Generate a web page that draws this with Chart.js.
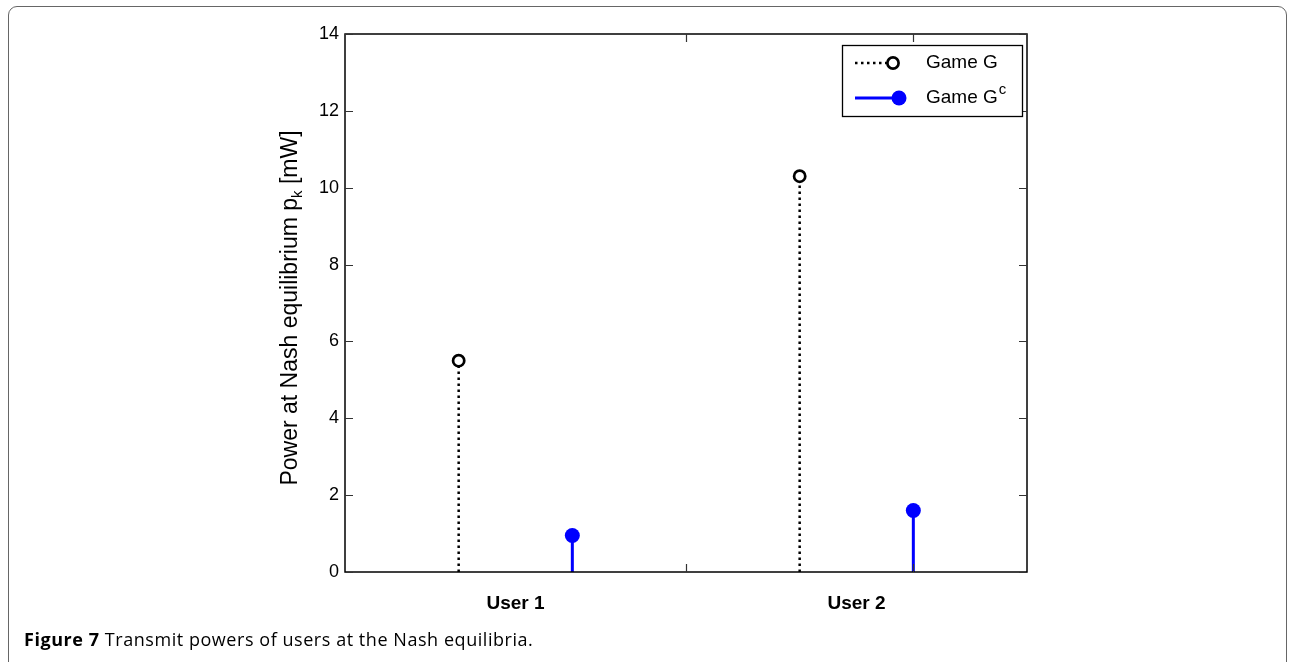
<!DOCTYPE html>
<html>
<head>
<meta charset="utf-8">
<script src="https://cdn.jsdelivr.net/npm/chart.js@4/dist/chart.umd.min.js"></script>
<style>
  html, body { margin: 0; padding: 0; background: #fff; width: 1294px; height: 662px; overflow: hidden; }
  #frame { position: absolute; left: 8px; top: 6px; width: 1279px; height: 720px; border: 1px solid #666; border-radius: 9px; box-sizing: border-box; }
  #plot { position: absolute; left: 0; top: 0; }
  #caption { position: absolute; left: 24px; top: 630px; font-family: "Open Sans", sans-serif; font-size: 18px; line-height: 1; letter-spacing: 0.55px; color: #000; white-space: nowrap; }
  #caption b { font-weight: 700; }
</style>
</head>
<body>
<div id="frame"></div>
<canvas id="plot" width="1294" height="662"></canvas>
<div id="caption"><b>Figure 7</b> Transmit powers of users at the Nash equilibria.</div>
<script>
// Users and the transmit power each one reaches at equilibrium [mW]
const users = ['User 1', 'User 2'];
const userPos = [1, 2];
const powerGameG = [5.5, 10.3];
const powerGameGc = [0.95, 1.6];
const yTickValues = [0, 2, 4, 6, 8, 10, 12, 14];
const xTickMarks = [1.5, 2 + 1 / 6];

const FONT = '"Liberation Sans", Arial, Helvetica, sans-serif';
const STEM_SHIFT = 1 / 6;

// One stem per user: a segment from 0 up to the value, separated by a gap point
function stems(values, shift) {
  const pts = [];
  values.forEach((v, i) => {
    const x = userPos[i] + shift;
    pts.push({ x: x, y: 0 }, { x: x, y: v }, { x: x, y: null });
  });
  return pts;
}
const tipOnly = r => ctx => (ctx.dataIndex % 3 === 1 ? r : 0);

const datasets = [
  {
    label: 'Game G',
    sup: '',
    data: stems(powerGameG, -STEM_SHIFT),
    borderColor: '#000',
    borderWidth: 2.5,
    borderDash: [2.5, 3.5],
    borderCapStyle: 'butt',
    pointRadius: tipOnly(5.6),
    pointHoverRadius: tipOnly(5.6),
    pointBackgroundColor: '#fff',
    pointBorderColor: '#000',
    pointBorderWidth: 2.7,
    spanGaps: false,
    tension: 0
  },
  {
    label: 'Game G',
    sup: 'c',
    data: stems(powerGameGc, STEM_SHIFT),
    borderColor: '#0000ff',
    borderWidth: 3,
    pointRadius: tipOnly(7.5),
    pointHoverRadius: tipOnly(7.5),
    pointBackgroundColor: '#0000ff',
    pointBorderColor: '#0000ff',
    pointBorderWidth: 0,
    spanGaps: false,
    tension: 0
  }
];

const TICK_LEN = 8;

// Box, inward ticks, rotated axis title and legend
const decorations = {
  id: 'decorations',
  afterDatasetsDraw(chart) {
    const { ctx, chartArea: a, scales } = chart;
    const xs = scales.x, ys = scales.y;
    ctx.save();
    ctx.strokeStyle = '#000';
    ctx.lineWidth = 1.5;
    ctx.strokeRect(a.left, a.top, a.right - a.left, a.bottom - a.top);

    ctx.lineWidth = 1.2;
    ctx.strokeStyle = '#333';
    ctx.beginPath();
    yTickValues.forEach(v => {
      const y = Math.round(ys.getPixelForValue(v)) + 0.5;
      ctx.moveTo(a.left, y); ctx.lineTo(a.left + TICK_LEN, y);
      ctx.moveTo(a.right, y); ctx.lineTo(a.right - TICK_LEN, y);
    });
    xTickMarks.forEach(v => {
      const x = Math.round(xs.getPixelForValue(v)) + 0.5;
      ctx.moveTo(x, a.bottom); ctx.lineTo(x, a.bottom - TICK_LEN);
      ctx.moveTo(x, a.top); ctx.lineTo(x, a.top + TICK_LEN);
    });
    ctx.stroke();

    // y-axis title with subscript k
    const main = '23px ' + FONT, sub = '15px ' + FONT;
    const p1 = 'Power at Nash equilibrium p', p2 = 'k', p3 = ' [mW]';
    ctx.font = main; const w1 = ctx.measureText(p1).width, w3 = ctx.measureText(p3).width;
    ctx.font = sub; const w2 = ctx.measureText(p2).width;
    const total = w1 + w2 + w3;
    ctx.translate(297, (a.top + a.bottom) / 2 + 5);
    ctx.rotate(-Math.PI / 2);
    ctx.fillStyle = '#000';
    ctx.textBaseline = 'alphabetic';
    ctx.textAlign = 'left';
    let x0 = -total / 2;
    ctx.font = main; ctx.fillText(p1, x0, 0); x0 += w1;
    ctx.font = sub; ctx.fillText(p2, x0, 5); x0 += w2;
    ctx.font = main; ctx.fillText(p3, x0, 0);
    ctx.restore();

    // legend
    ctx.save();
    const L = { left: 842, top: 45, right: 1022, bottom: 116 };
    ctx.fillStyle = '#fff';
    ctx.fillRect(L.left, L.top, L.right - L.left, L.bottom - L.top);
    ctx.strokeStyle = '#000';
    ctx.lineWidth = 1.3;
    ctx.strokeRect(L.left + 0.5, L.top + 0.5, L.right - L.left, L.bottom - L.top);
    const rows = [63, 98];
    const markX = [893, 899];
    chart.data.datasets.forEach((ds, i) => {
      const y = rows[i];
      ctx.strokeStyle = ds.borderColor;
      ctx.lineWidth = ds.borderWidth;
      ctx.setLineDash(ds.borderDash || []);
      ctx.lineCap = 'butt';
      ctx.beginPath();
      ctx.moveTo(855, y); ctx.lineTo(markX[i], y);
      ctx.stroke();
      ctx.setLineDash([]);
      const r = ds.pointRadius({ dataIndex: 1 });
      ctx.beginPath();
      ctx.arc(markX[i], y, r, 0, Math.PI * 2);
      ctx.fillStyle = ds.pointBackgroundColor;
      ctx.fill();
      if (ds.pointBorderWidth > 0) {
        ctx.lineWidth = ds.pointBorderWidth;
        ctx.strokeStyle = ds.pointBorderColor;
        ctx.stroke();
      }
      ctx.fillStyle = '#000';
      ctx.font = '19px ' + FONT;
      ctx.textBaseline = 'middle';
      ctx.textAlign = 'left';
      ctx.fillText(ds.label, 926, y);
      if (ds.sup) {
        const w = ctx.measureText(ds.label).width;
        ctx.font = '15px ' + FONT;
        ctx.fillText(ds.sup, 926 + w + 1, y - 8);
      }
    });
    ctx.restore();
  }
};

new Chart(document.getElementById('plot'), {
  type: 'line',
  data: { datasets: datasets },
  plugins: [decorations],
  options: {
    responsive: false,
    animation: false,
    devicePixelRatio: 1,
    layout: { padding: { left: 0, top: 34, right: 267, bottom: 0 } },
    plugins: { legend: { display: false }, tooltip: { enabled: false } },
    events: [],
    scales: {
      x: {
        type: 'linear',
        min: 0.5,
        max: 2.5,
        afterBuildTicks: s => { s.ticks = userPos.map(v => ({ value: v })); },
        afterFit: s => { s.height = 90; },
        ticks: {
          callback: v => users[userPos.indexOf(v)],
          font: { family: FONT, size: 19, weight: 'bold' },
          color: '#000',
          padding: 20,
          maxRotation: 0
        },
        grid: { display: false, drawTicks: false },
        border: { display: false }
      },
      y: {
        type: 'linear',
        min: 0,
        max: 14,
        afterBuildTicks: s => { s.ticks = yTickValues.map(v => ({ value: v })); },
        afterFit: s => { s.width = 345; },
        ticks: {
          font: { family: FONT, size: 18 },
          color: '#000',
          padding: 6
        },
        grid: { display: false, drawTicks: false },
        border: { display: false }
      }
    }
  }
});
</script>
</body>
</html>
